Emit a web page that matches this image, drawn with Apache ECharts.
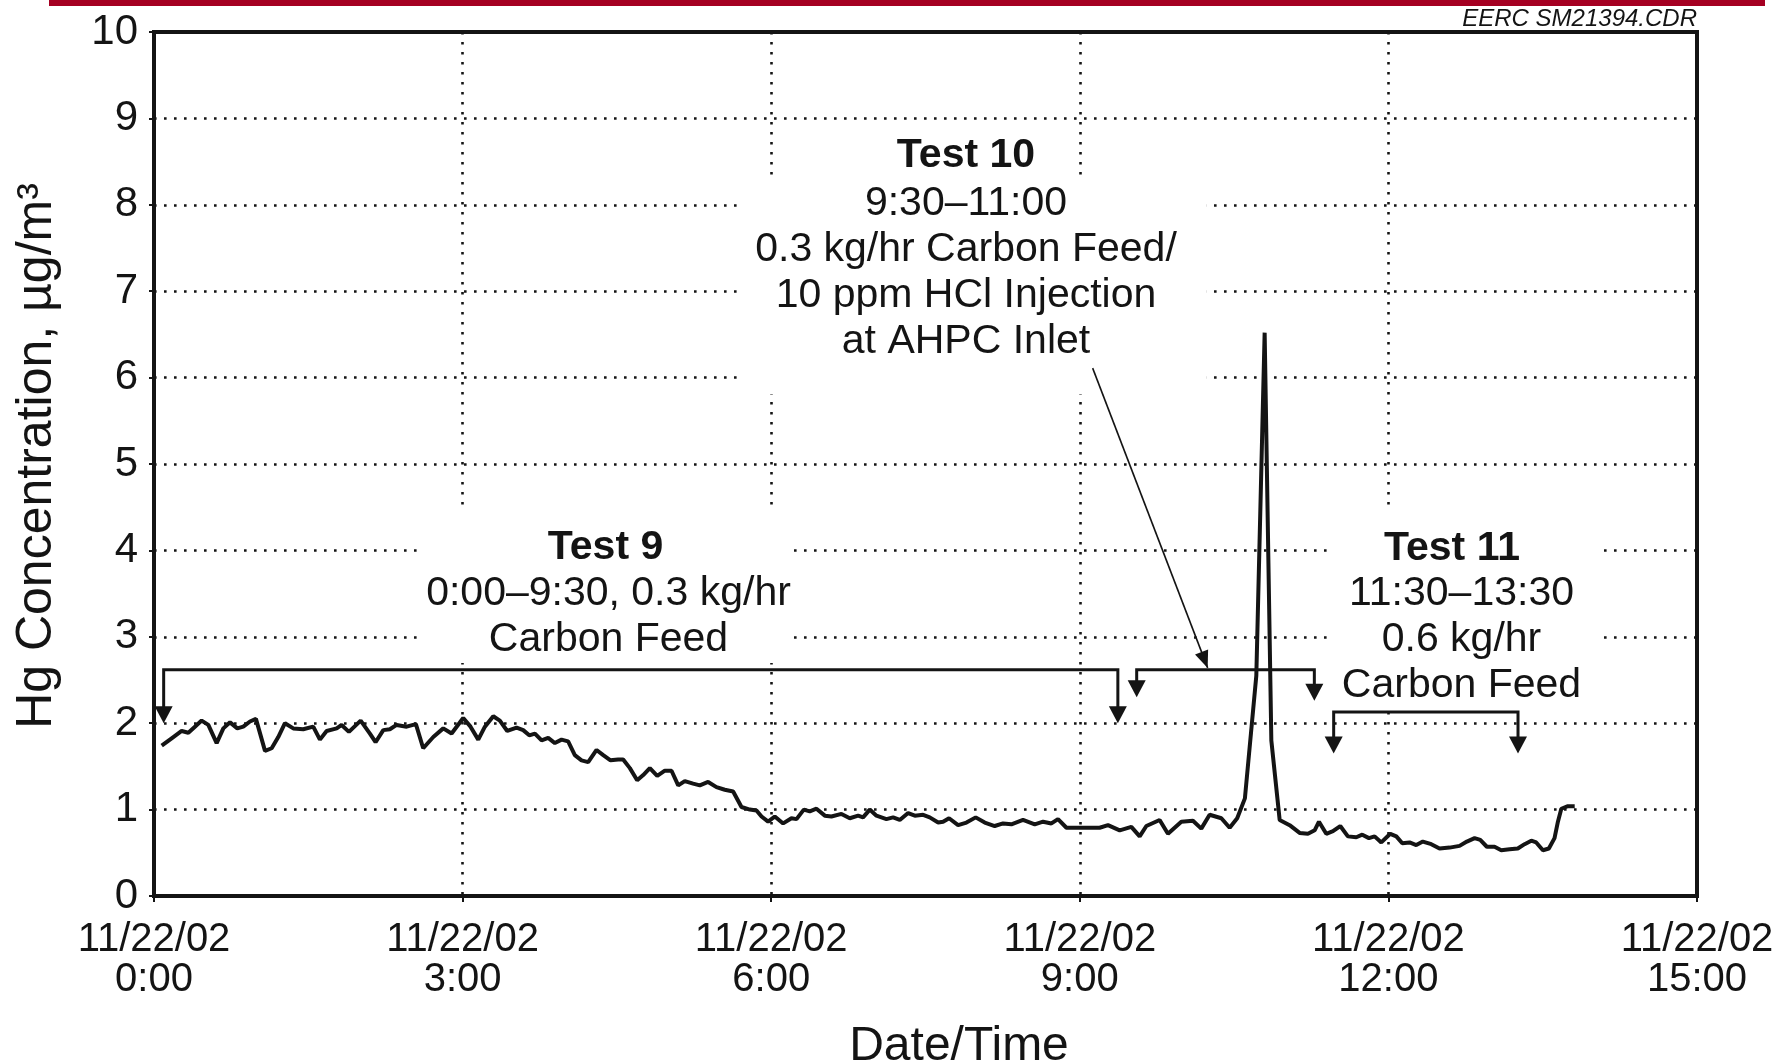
<!DOCTYPE html>
<html>
<head>
<meta charset="utf-8">
<title>Hg Concentration – Tests 9 to 11</title>
<style>
  html, body { margin: 0; padding: 0; background: #ffffff; }
  #chart { width: 1778px; height: 1064px; }
</style>
<script src="https://cdn.jsdelivr.net/npm/echarts@6/dist/echarts.min.js"></script>
</head>
<body>
<div id="chart"></div>
<script>
// Elapsed time on 11/22/02, in hours from midnight
const hours = [
  0.075, 0.188, 0.269, 0.334, 0.398, 0.463, 0.528, 0.609, 0.674, 0.739,
  0.810, 0.868, 0.933, 0.991, 1.079, 1.144, 1.208, 1.273, 1.354, 1.451,
  1.548, 1.613, 1.678, 1.776, 1.824, 1.895, 2.009, 2.099, 2.154, 2.229,
  2.293, 2.358, 2.456, 2.546, 2.617, 2.715, 2.812, 2.893, 3.006, 3.077,
  3.152, 3.217, 3.298, 3.362, 3.434, 3.525, 3.589, 3.648, 3.703, 3.768,
  3.832, 3.897, 3.962, 4.026, 4.091, 4.156, 4.221, 4.302, 4.367, 4.438,
  4.512, 4.561, 4.626, 4.697, 4.756, 4.820, 4.892, 4.966, 5.031, 5.096,
  5.160, 5.241, 5.306, 5.387, 5.468, 5.549, 5.630, 5.711, 5.792, 5.857,
  5.906, 5.970, 6.035, 6.116, 6.197, 6.246, 6.317, 6.375, 6.440, 6.521,
  6.586, 6.683, 6.764, 6.845, 6.893, 6.958, 7.023, 7.120, 7.185, 7.250,
  7.331, 7.396, 7.477, 7.541, 7.623, 7.671, 7.729, 7.817, 7.898, 7.988,
  8.076, 8.173, 8.254, 8.335, 8.448, 8.562, 8.643, 8.724, 8.788, 8.870,
  8.967, 9.080, 9.193, 9.274, 9.388, 9.501, 9.582, 9.647, 9.776, 9.857,
  9.987, 10.100, 10.181, 10.262, 10.376, 10.457, 10.530, 10.605, 10.716, 10.797,
  10.862, 10.943, 11.040, 11.137, 11.218, 11.283, 11.325, 11.396, 11.461, 11.532,
  11.606, 11.688, 11.746, 11.811, 11.866, 11.931, 12.018, 12.077, 12.135, 12.206,
  12.271, 12.335, 12.417, 12.497, 12.595, 12.692, 12.763, 12.838, 12.893, 12.957,
  13.032, 13.097, 13.178, 13.258, 13.324, 13.389, 13.437, 13.502, 13.560, 13.615,
  13.648, 13.681, 13.745, 13.811
];

// Hg concentration, µg/m³
const hgValues = [
  1.74, 1.84, 1.91, 1.89, 1.96, 2.03, 1.98, 1.77, 1.94, 2.01,
  1.94, 1.96, 2.02, 2.05, 1.68, 1.71, 1.84, 2.00, 1.94, 1.93,
  1.96, 1.81, 1.91, 1.94, 1.98, 1.90, 2.03, 1.88, 1.78, 1.92,
  1.93, 1.98, 1.96, 1.99, 1.71, 1.84, 1.94, 1.88, 2.06, 1.96,
  1.81, 1.96, 2.08, 2.03, 1.91, 1.95, 1.92, 1.86, 1.88, 1.80,
  1.83, 1.77, 1.81, 1.79, 1.63, 1.57, 1.55, 1.69, 1.63, 1.57,
  1.58, 1.58, 1.48, 1.34, 1.40, 1.48, 1.39, 1.45, 1.45, 1.28,
  1.33, 1.30, 1.28, 1.32, 1.26, 1.23, 1.21, 1.03, 1.00, 0.99,
  0.92, 0.86, 0.92, 0.84, 0.90, 0.89, 1.00, 0.98, 1.01, 0.93,
  0.92, 0.95, 0.90, 0.93, 0.91, 1.00, 0.93, 0.89, 0.91, 0.88,
  0.96, 0.93, 0.94, 0.91, 0.85, 0.86, 0.90, 0.82, 0.85, 0.91,
  0.85, 0.81, 0.84, 0.83, 0.88, 0.83, 0.86, 0.84, 0.89, 0.79,
  0.79, 0.79, 0.79, 0.82, 0.76, 0.80, 0.69, 0.81, 0.88, 0.72,
  0.86, 0.87, 0.78, 0.94, 0.90, 0.79, 0.90, 1.13, 2.55, 6.52,
  1.80, 0.88, 0.82, 0.73, 0.72, 0.76, 0.86, 0.72, 0.75, 0.81,
  0.69, 0.68, 0.71, 0.67, 0.69, 0.62, 0.72, 0.69, 0.61, 0.62,
  0.59, 0.63, 0.60, 0.55, 0.56, 0.58, 0.63, 0.67, 0.65, 0.57,
  0.57, 0.53, 0.54, 0.55, 0.60, 0.64, 0.62, 0.53, 0.55, 0.67,
  0.86, 1.01, 1.04, 1.04
];

// Axis tick labels
const dateLabel = '11/22/02';
const timeLabels = ['0:00', '3:00', '6:00', '9:00', '12:00', '15:00'];

// Annotation text
const test9Lines = ['Test 9', '0:00–9:30, 0.3 kg/hr', 'Carbon Feed'];
const test10Lines = ['Test 10', '9:30–11:00', '0.3 kg/hr Carbon Feed/', '10 ppm HCl Injection', 'at AHPC Inlet'];
const test11Lines = ['Test 11', '11:30–13:30', '0.6 kg/hr', 'Carbon Feed'];

// Test period brackets (hours / concentration units)
const bracketStarts = [0.094, 9.553, 11.468];
const bracketEnds = [9.37, 11.28, 13.26];
const bracketLevels = [2.62, 2.62, 2.13];
const startTips = [2.00, 2.30, 1.65];
const endTips = [2.00, 2.26, 1.65];

// Leader from the Test 10 note down to its bracket
const pointerFrom = [9.125, 6.11];
const pointerTo = [10.243, 2.64];

const FONT = "'Liberation Sans', Arial, Helvetica, sans-serif";
const INK = '#141414';

const chart = echarts.init(document.getElementById('chart'), null, { renderer: 'canvas' });

const dotted = { color: INK, width: 2.6, type: [2.6, 7.4] };

chart.setOption({
  animation: false,
  backgroundColor: '#ffffff',
  grid: {
    left: 154, right: 81, top: 32, bottom: 168,
    show: true, borderColor: INK, borderWidth: 4, backgroundColor: 'transparent'
  },
  xAxis: {
    type: 'value', min: 0, max: 15, interval: 3,
    axisLine: { show: false },
    axisTick: { show: true, length: 6, lineStyle: { color: INK, width: 2 } },
    splitLine: { show: true, lineStyle: dotted },
    axisLabel: {
      margin: 24,
      fontFamily: FONT, fontSize: 40, lineHeight: 40, color: INK,
      formatter: (v) => dateLabel + '\n' + timeLabels[Math.round(v / 3)]
    }
  },
  yAxis: {
    type: 'value', min: 0, max: 10, interval: 1,
    axisLine: { show: false },
    axisTick: { show: true, length: 5, lineStyle: { color: INK, width: 2 } },
    splitLine: { show: true, lineStyle: dotted },
    axisLabel: { margin: 16, fontFamily: FONT, fontSize: 42, color: INK }
  },
  series: [{
    type: 'line',
    z: 5,
    data: hours.map((h, i) => [h, hgValues[i]]),
    symbol: 'none',
    lineStyle: { color: INK, width: 4 }
  }]
});

function arrowHead(tip, dirX, dirY, len, half) {
  // filled triangle whose point sits on `tip`, pointing along (dirX, dirY)
  const n = Math.hypot(dirX, dirY);
  const ux = dirX / n, uy = dirY / n;
  const bx = tip[0] - ux * len, by = tip[1] - uy * len;
  return [
    [tip[0], tip[1]],
    [bx - uy * half, by + ux * half],
    [bx + uy * half, by - ux * half]
  ];
}

function buildGraphics() {
  const toPx = (x, y) => chart.convertToPixel({ xAxisIndex: 0, yAxisIndex: 0 }, [x, y]);
  const els = [];

  // red rule across the top
  els.push({ type: 'rect', z: 10, silent: true,
    shape: { x: 49, y: 0, width: 1716, height: 6 }, style: { fill: '#a50022' } });

  // drawing reference
  els.push({ type: 'text', z: 10, silent: true, x: 1697, y: 19,
    style: { text: 'EERC SM21394.CDR', fontFamily: FONT, fontStyle: 'italic', fontSize: 24,
      fill: INK, align: 'right', verticalAlign: 'middle' } });

  // axis titles
  els.push({ type: 'text', z: 10, silent: true, x: 37, y: 456, rotation: Math.PI / 2,
    style: { text: 'Hg Concentration, µg/m³', fontFamily: FONT, fontSize: 50,
      fill: INK, align: 'center', verticalAlign: 'middle' } });
  els.push({ type: 'text', z: 10, silent: true, x: 959, y: 1047,
    style: { text: 'Date/Time', fontFamily: FONT, fontSize: 48,
      fill: INK, align: 'center', verticalAlign: 'middle' } });

  const body = (lines, x, y, pad) => ({
    type: 'text', z: 1, silent: true, x: x, y: y,
    style: {
      text: lines.join('\n'), fontFamily: FONT, fontSize: 41, lineHeight: 46,
      fill: INK, align: 'center', verticalAlign: 'top',
      backgroundColor: '#ffffff', padding: pad
    }
  });
  const title = (txt, x, y) => ({
    type: 'text', z: 3, silent: true, x: x, y: y,
    style: { text: txt, fontFamily: FONT, fontSize: 41, fontWeight: 'bold',
      fill: INK, align: 'center', verticalAlign: 'middle' }
  });

  // Test 9 note
  els.push(body(test9Lines.slice(1), 608.5, 505, [66, 3, 0, 3]));
  els.push(title(test9Lines[0], 605.5, 548));
  // Test 10 note
  els.push(title(test10Lines[0], 966, 156));
  els.push(body(test10Lines.slice(1), 973, 175, [6, 30, 29, 16]));
  // Test 11 note
  els.push(body(test11Lines.slice(1), 1465.5, 506, [65, 17, 0, 9]));
  els.push(title(test11Lines[0], 1452, 548.5));

  // brackets marking each test period
  const headLen = 17, headHalf = 9;
  for (let i = 0; i < bracketStarts.length; i++) {
    const a = toPx(bracketStarts[i], bracketLevels[i]);
    const b = toPx(bracketEnds[i], bracketLevels[i]);
    const ta = toPx(bracketStarts[i], startTips[i]);
    const tb = toPx(bracketEnds[i], endTips[i]);
    const baseA = Math.max(a[1], ta[1] - headLen + 1);
    const baseB = Math.max(b[1], tb[1] - headLen + 1);
    els.push({ type: 'polyline', z: 6, silent: true,
      shape: { points: [[a[0], baseA], [a[0], a[1]], [b[0], b[1]], [b[0], baseB]] },
      style: { stroke: INK, lineWidth: 3, fill: null } });
    els.push({ type: 'polygon', z: 6, silent: true,
      shape: { points: arrowHead(ta, 0, 1, headLen, headHalf) }, style: { fill: INK } });
    els.push({ type: 'polygon', z: 6, silent: true,
      shape: { points: arrowHead(tb, 0, 1, headLen, headHalf) }, style: { fill: INK } });
  }

  // leader line for the Test 10 note
  const p0 = toPx(pointerFrom[0], pointerFrom[1]);
  const p1 = toPx(pointerTo[0], pointerTo[1]);
  els.push({ type: 'line', z: 6, silent: true,
    shape: { x1: p0[0], y1: p0[1], x2: p1[0], y2: p1[1] },
    style: { stroke: INK, lineWidth: 1.6 } });
  els.push({ type: 'polygon', z: 6, silent: true,
    shape: { points: arrowHead(p1, p1[0] - p0[0], p1[1] - p0[1], 17, 7) }, style: { fill: INK } });

  chart.setOption({ graphic: { elements: els } });
}

buildGraphics();
</script>
</body>
</html>
